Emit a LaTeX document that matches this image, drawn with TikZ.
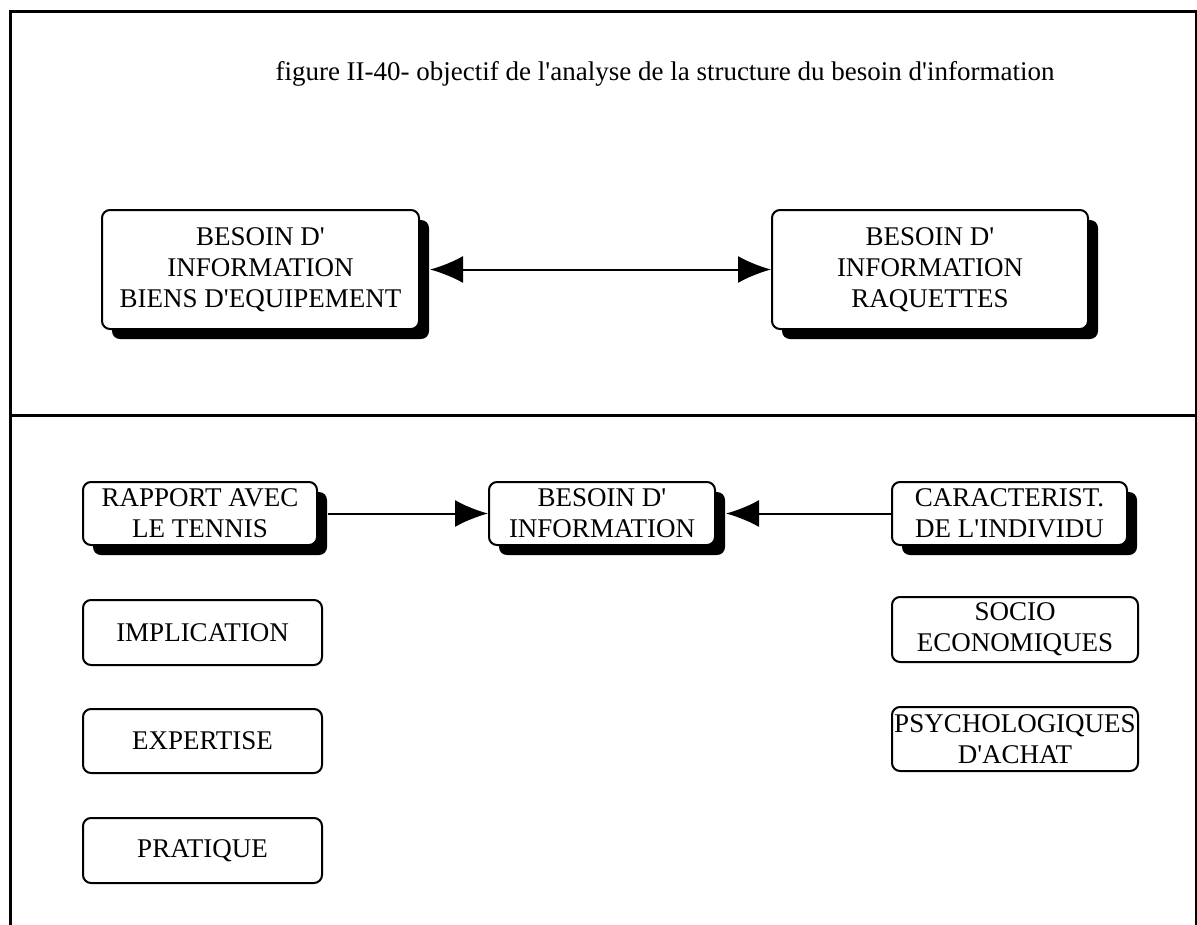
\documentclass[tikz,border=0pt]{standalone}
\usepackage{fontspec}
\setmainfont{Liberation Serif}
\usetikzlibrary{arrows.meta,shadows}
\newcommand{\ap}{\textquotesingle}

\begin{document}
\begin{tikzpicture}[x=1pt,y=-1pt]
      \newcommand{\colL}[0]{202.5}
      \newcommand{\colR}[0]{1015}
      \newcommand{\rowA}[0]{513.5}

      \tikzstyle{box}=[
        draw,
        rounded corners=8pt,
        line width=2pt,
        fill=white,
        inner sep=0pt,
        align=center,
        anchor=center,
        font=\fontsize{27}{31}\selectfont
      ]
      \tikzstyle{shadowbox}=[box,
        drop shadow={shadow xshift=10pt, shadow yshift=-10pt, fill=black, opacity=1}]
      \tikzstyle{arrow} = [line width=2pt,-{Latex[length=33pt,width=27pt]}, draw=black]
      \tikzstyle{dblarrow} = [line width=2pt,{Latex[length=33pt,width=27pt]}-{Latex[length=33pt,width=27pt]}, draw=black]
      \tikzstyle{frame} = [line width=3pt, draw=black]

      \useasboundingbox (0,0) rectangle (1197,924);

      \draw[frame] (10,930) -- (10,11) -- (1196,11) -- (1196,930);
      \draw[frame] (10,415) -- (1196,415);

      \node[font=\fontsize{27}{31}\selectfont] (title) at (665,74)
        {figure II-40- objectif de l\ap analyse de la structure du besoin d\ap information};

      \node[shadowbox, minimum width=317pt, minimum height=119pt] (biens) at (260.5,269.5)
        {BESOIN D\ap\\INFORMATION\\BIENS D\ap EQUIPEMENT};
      \node[shadowbox, minimum width=316pt, minimum height=119pt] (raquettes) at (930,269.5)
        {BESOIN D\ap\\INFORMATION\\RAQUETTES};

      \node[shadowbox, minimum width=234pt, minimum height=63pt] (rapport) at (200,\rowA)
        {RAPPORT AVEC\\LE TENNIS};
      \node[shadowbox, minimum width=226pt, minimum height=63pt] (besoin) at (602,\rowA)
        {BESOIN D\ap\\INFORMATION};
      \node[shadowbox, minimum width=235pt, minimum height=63pt] (caract) at (1009.5,\rowA)
        {CARACTERIST.\\DE L\ap INDIVIDU};

      \node[box, minimum width=239pt, minimum height=65pt] (implication) at (\colL,632.5) {IMPLICATION};
      \node[box, minimum width=239pt, minimum height=64pt] (expertise)   at (\colL,741)   {EXPERTISE};
      \node[box, minimum width=239pt, minimum height=65pt] (pratique)    at (\colL,850.5) {PRATIQUE};
      \node[box, minimum width=246pt, minimum height=65pt] (socio)       at (\colR,629.5) {SOCIO\\ECONOMIQUES};
      \node[box, minimum width=246pt, minimum height=64pt] (psycho)      at (\colR,739)   {PSYCHOLOGIQUES\\D\ap ACHAT};

      \draw[dblarrow] ([xshift=10pt]biens.east) -- (raquettes.west);
      \draw[arrow] ([xshift=10pt]rapport.east) -- (besoin.west);
      \draw[arrow] (caract.west) -- ([xshift=10pt]besoin.east);
    \end{tikzpicture}
\end{document}
